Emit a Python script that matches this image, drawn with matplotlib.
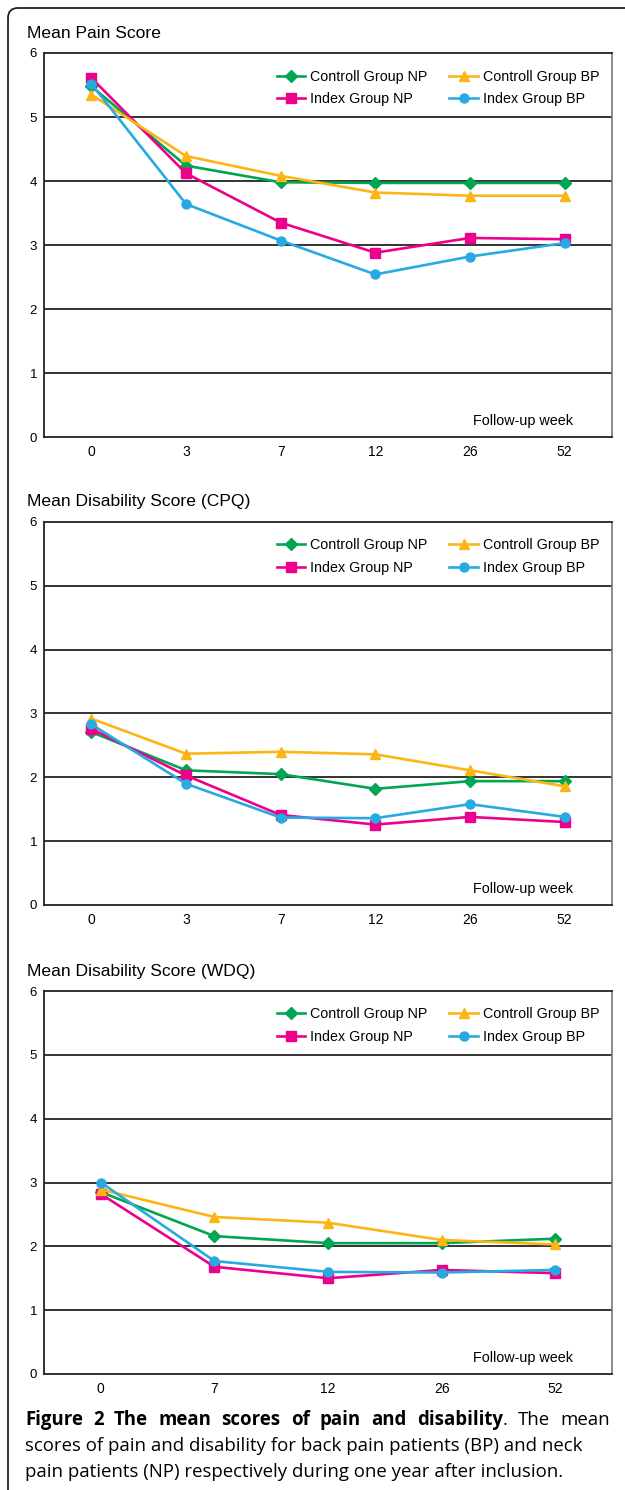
import matplotlib

matplotlib.use("Agg")
import matplotlib.pyplot as plt
from matplotlib.path import Path
from matplotlib.patches import PathPatch

# ---- data ----
series_names = ["Controll Group NP", "Index Group NP", "Controll Group BP", "Index Group BP"]

pain_weeks = ["0", "3", "7", "12", "26", "52"]
pain_ctrl_np = [5.48, 4.24, 3.98, 3.97, 3.97, 3.97]
pain_index_np = [5.61, 4.12, 3.35, 2.88, 3.11, 3.09]
pain_ctrl_bp = [5.35, 4.39, 4.08, 3.82, 3.77, 3.77]
pain_index_bp = [5.52, 3.64, 3.07, 2.54, 2.82, 3.03]

cpq_weeks = ["0", "3", "7", "12", "26", "52"]
cpq_ctrl_np = [2.71, 2.11, 2.05, 1.82, 1.94, 1.94]
cpq_index_np = [2.76, 2.03, 1.41, 1.26, 1.38, 1.30]
cpq_ctrl_bp = [2.92, 2.37, 2.40, 2.36, 2.11, 1.86]
cpq_index_bp = [2.83, 1.90, 1.37, 1.36, 1.58, 1.38]

wdq_weeks = ["0", "7", "12", "26", "52"]
wdq_ctrl_np = [2.85, 2.16, 2.05, 2.05, 2.12]
wdq_index_np = [2.82, 1.68, 1.50, 1.63, 1.58]
wdq_ctrl_bp = [2.89, 2.46, 2.37, 2.10, 2.03]
wdq_index_bp = [3.00, 1.77, 1.60, 1.59, 1.63]

panel_titles = ["Mean Pain Score", "Mean Disability Score (CPQ)", "Mean Disability Score (WDQ)"]
x_label = "Follow-up week"

caption_bold = "Figure 2 The mean scores of pain and disability"
caption_rest = ". The mean"
caption_lines = [
    "scores of pain and disability for back pain patients (BP) and neck",
    "pain patients (NP) respectively during one year after inclusion.",
]

# ---- styling ----
colors = ["#00a651", "#ec008c", "#fdb515", "#27aae1"]
markers = ["D", "s", "^", "o"]
msizes = [6, 6.5, 7, 6.5]

W, H = 625, 1490
FONT = ["Liberation Sans", "DejaVu Sans"]
CAP = ["Open Sans", "DejaVu Sans"]

fig = plt.figure(figsize=(W / 100, H / 100), dpi=100)


def px_axes(left, top, right, bottom):
    return fig.add_axes([left / W, 1 - bottom / H, (right - left) / W, (bottom - top) / H])


def draw_panel(top, bottom, title, weeks, data):
    ax = px_axes(44, top, 612, bottom)
    x = list(range(len(weeks)))
    handles = []
    for vals, c, m, ms, name in zip(data, colors, markers, msizes, series_names):
        (h,) = ax.plot(x, vals, color=c, marker=m, markersize=ms, linewidth=1.9,
                       label=name, zorder=3)
        handles.append(h)
    ax.set_xlim(-0.5, len(weeks) - 0.5)
    ax.set_ylim(0, 6)
    ax.set_xticks(x)
    ax.set_xticklabels(weeks, fontsize=10, family=FONT)
    ax.set_yticks(range(7))
    ax.set_yticklabels([str(v) for v in range(7)], fontsize=9.5, family=FONT)
    ax.tick_params(axis="x", length=0, pad=6)
    ax.tick_params(axis="y", length=0, pad=5)
    for v in range(1, 6):
        ax.axhline(v, color="#111111", linewidth=1.2, zorder=1)
    for side in ["left", "bottom", "top"]:
        ax.spines[side].set_color("#222222")
        ax.spines[side].set_linewidth(1.3)
    ax.spines["right"].set_color("#777777")
    ax.spines["right"].set_linewidth(1.2)
    ax.text(0.931, 0.041, x_label, transform=ax.transAxes, ha="right", va="center",
            fontsize=10.4, family=FONT)
    ax.legend(handles=handles, ncol=2, loc="upper left", bbox_to_anchor=(0.41, 0.957),
              frameon=False, prop={"family": FONT, "size": 10.3}, handlelength=2.0,
              handletextpad=0.35, columnspacing=1.5, labelspacing=0.62,
              borderpad=0, borderaxespad=0)
    fig.text(27 / W, 1 - (top - 20) / H, title, fontsize=12.6, family=FONT,
             ha="left", va="center")
    return ax


draw_panel(53, 437, panel_titles[0], pain_weeks,
           [pain_ctrl_np, pain_index_np, pain_ctrl_bp, pain_index_bp])
draw_panel(522, 905, panel_titles[1], cpq_weeks,
           [cpq_ctrl_np, cpq_index_np, cpq_ctrl_bp, cpq_index_bp])
draw_panel(991, 1374, panel_titles[2], wdq_weeks,
           [wdq_ctrl_np, wdq_index_np, wdq_ctrl_bp, wdq_index_bp])

# ---- outer frame (rounded top-left corner) ----
r = 10
verts = [(W + 5, 8), (8 + r, 8), (8, 8), (8, 8 + r), (8, H + 5)]
codes = [Path.MOVETO, Path.LINETO, Path.CURVE3, Path.CURVE3, Path.LINETO]
verts = [(vx / W, 1 - vy / H) for vx, vy in verts]
fig.patches.append(PathPatch(Path(verts, codes), transform=fig.transFigure,
                             fill=False, edgecolor="#222222", linewidth=1.3))

# ---- caption ----
cap_size = 13.4
cap_left, cap_right = 25, 610
baselines = [1425, 1451, 1477]

# first line is justified: bold words, then the regular tail
tokens = [(w, "bold", False) for w in caption_bold.split()]
tail = caption_rest.split()
tokens.append((tail[0], "normal", True))  # period sticks to the previous word
tokens += [(w, "normal", False) for w in tail[1:]]

renderer = fig.canvas.get_renderer()
texts = []
for word, weight, attach in tokens:
    t = fig.text(0, 1 - baselines[0] / H, word, fontsize=cap_size, family=CAP,
                 fontweight=weight, ha="left", va="baseline")
    texts.append((t, attach))
widths = [t.get_window_extent(renderer).width for t, _ in texts]
n_gaps = sum(1 for _, attach in texts[1:] if not attach)
gap = (cap_right - cap_left - sum(widths)) / n_gaps
xpos = cap_left
for (t, attach), w in zip(texts, widths):
    if attach:
        xpos -= gap
    t.set_x(xpos / W)
    xpos += w + gap

for line, yb in zip(caption_lines, baselines[1:]):
    fig.text(cap_left / W, 1 - yb / H, line, fontsize=cap_size, family=CAP,
             ha="left", va="baseline")

fig.savefig("out.png", dpi=100, facecolor="white")
